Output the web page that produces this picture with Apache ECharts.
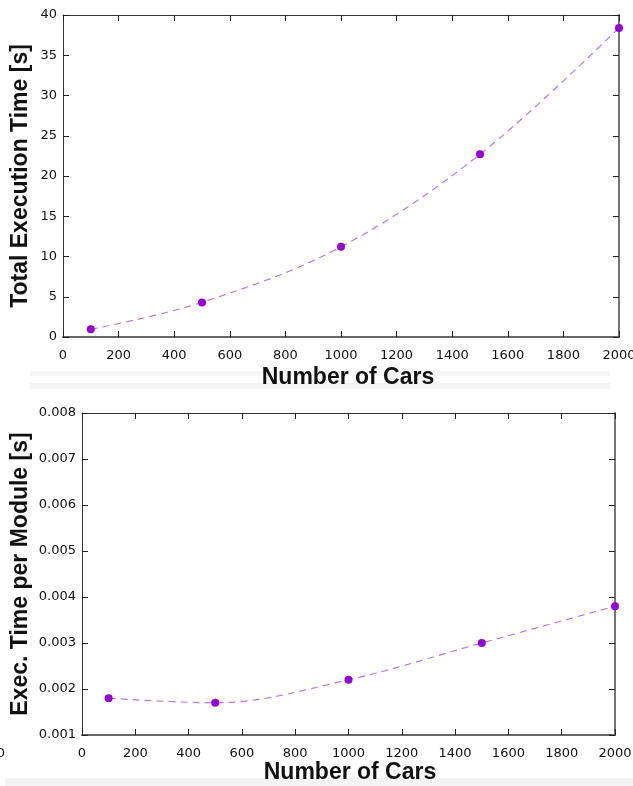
<!DOCTYPE html>
<html><head><meta charset="utf-8">
<script src="https://cdn.jsdelivr.net/npm/echarts@6/dist/echarts.min.js"></script>
<style>html,body{margin:0;padding:0;background:#fff}#c{width:633px;height:786px}</style>
</head><body><div id="c"></div>
<script>
const cars = [100, 500, 1000, 1500, 2000];
const totalTime = [0.95, 4.3, 11.2, 22.7, 38.4];
const timePerModule = [0.0018, 0.0017, 0.0022, 0.0030, 0.0038];
const xTitle = 'Number of Cars';
const yTitleTop = 'Total Execution Time [s]';
const yTitleBottom = 'Exec. Time per Module [s]';

const chart = echarts.init(document.getElementById('c'), null, {renderer: 'canvas'});
const tickFont = {fontFamily: 'DejaVu Sans', fontSize: 13, color: '#111'};
const titleFont = {fontFamily: 'Liberation Sans', fontWeight: 'bold', fontSize: 23, fill: '#111'};

function xAx(grid, pos, labels, lineColor, lineWidth) {
  return {gridIndex: grid, type: 'value', position: pos, min: 0, max: 2000, interval: 200,
    axisLine: {show: true, onZero: false, lineStyle: {color: lineColor, width: lineWidth}},
    axisTick: {show: true, inside: true, length: 6, lineStyle: {color: '#222'}},
    axisLabel: labels ? Object.assign({show: true, margin: 12, formatter: v => String(v)}, tickFont) : {show: false},
    splitLine: {show: false}};
}
function yAx(grid, pos, min, max, interval, labels, fmt, lineColor, lineWidth) {
  return {gridIndex: grid, type: 'value', position: pos, min: min, max: max, interval: interval,
    axisLine: {show: true, onZero: false, lineStyle: {color: lineColor, width: lineWidth}},
    axisTick: {show: true, inside: true, length: 6, lineStyle: {color: '#222'}},
    axisLabel: labels ? Object.assign({show: true, margin: 6, formatter: fmt}, tickFont) : {show: false},
    splitLine: {show: false}};
}
const lineStyle = {color: '#b57be8', width: 1.2, type: [7, 5]};
const itemStyle = {color: '#9400d3'};

chart.setOption({
  animation: false,
  backgroundColor: '#fff',
  grid: [
    {left: 63, right: 14, top: 15, height: 322, outerBoundsMode: 'none', containLabel: false},
    {left: 82, right: 18, top: 413, height: 322, outerBoundsMode: 'none', containLabel: false}
  ],
  xAxis: [
    xAx(0, 'bottom', true, '#666', 2),
    xAx(0, 'top', false, '#333', 1),
    xAx(1, 'bottom', true, '#666', 2),
    xAx(1, 'top', false, '#333', 1)
  ],
  yAxis: [
    yAx(0, 'left', 0, 40, 5, true, v => String(v), '#333', 1),
    yAx(0, 'right', 0, 40, 5, false, null, '#777', 2),
    yAx(1, 'left', 0.001, 0.008, 0.001, true, v => v.toFixed(3), '#333', 1),
    yAx(1, 'right', 0.001, 0.008, 0.001, false, null, '#777', 2)
  ],
  series: [
    {type: 'line', xAxisIndex: 0, yAxisIndex: 0, data: cars.map((c, i) => [c, totalTime[i]]),
      smooth: 0.35, symbol: 'circle', symbolSize: 8, lineStyle: lineStyle, itemStyle: itemStyle, clip: false},
    {type: 'line', xAxisIndex: 2, yAxisIndex: 2, data: cars.map((c, i) => [c, timePerModule[i]]),
      smooth: 0.35, symbol: 'circle', symbolSize: 8, lineStyle: lineStyle, itemStyle: itemStyle, clip: false}
  ],
  graphic: [
    {type: 'rect', shape: {x: 30, y: 371, width: 580, height: 5}, style: {fill: '#f6f6f6'}, z: -1},
    {type: 'rect', shape: {x: 30, y: 383, width: 580, height: 6}, style: {fill: '#f3f3f3'}, z: -1},
    {type: 'rect', shape: {x: 5, y: 778, width: 628, height: 8}, style: {fill: '#f4f4f4'}, z: -1},
    {type: 'text', x: 348, y: 378, style: Object.assign({text: xTitle, align: 'center', verticalAlign: 'middle'}, titleFont), z: 10},
    {type: 'text', x: 350, y: 773, style: Object.assign({text: xTitle, align: 'center', verticalAlign: 'middle'}, titleFont), z: 10},
    {type: 'text', x: 21, y: 176, rotation: Math.PI / 2, style: Object.assign({text: yTitleTop, align: 'center', verticalAlign: 'middle'}, titleFont), z: 10},
    {type: 'text', x: 21, y: 574, rotation: Math.PI / 2, style: Object.assign({text: yTitleBottom, align: 'center', verticalAlign: 'middle'}, titleFont), z: 10},
    {type: 'text', x: 1, y: 754, style: {text: '0', align: 'center', verticalAlign: 'middle', fontFamily: 'DejaVu Sans', fontSize: 13, fill: '#111'}}
  ]
});
</script></body></html>
